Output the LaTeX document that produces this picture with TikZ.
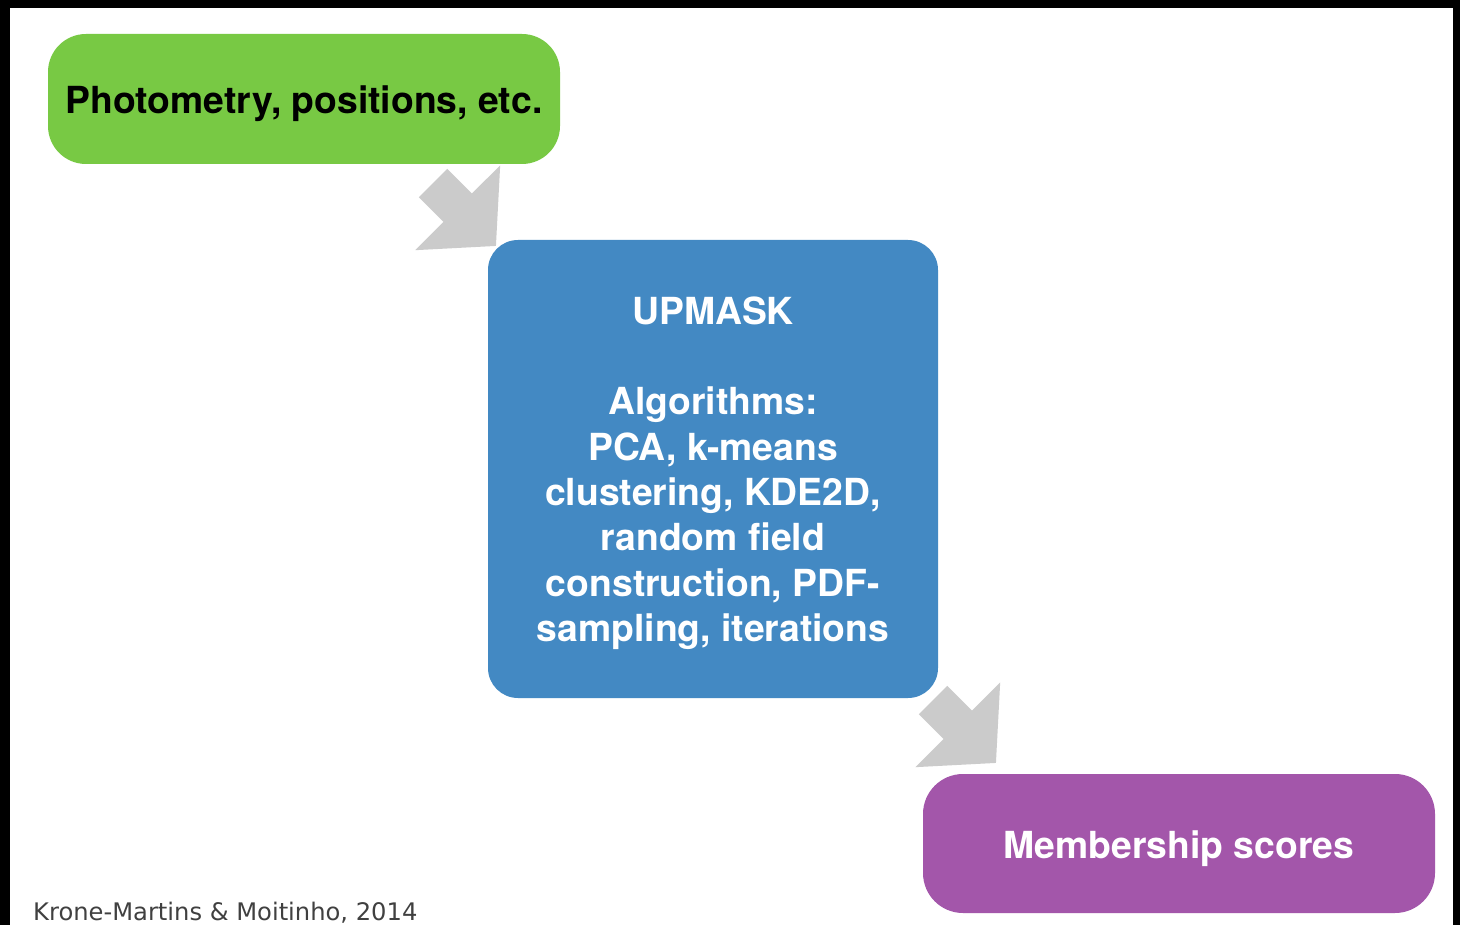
\documentclass[tikz,border=0pt]{standalone}
\usepackage{fontspec}
\setmainfont{TeX Gyre Heros}
\newfontfamily\footfont{DejaVu Sans}
\definecolor{boxgreen}{HTML}{78C944}
\definecolor{boxblue}{HTML}{4389C3}
\definecolor{boxpurple}{HTML}{A356AA}
\definecolor{arrowgray}{HTML}{CBCBCB}
\definecolor{footgray}{HTML}{404040}
\newcommand\blockarr[1]{\fill[arrowgray, shift={(#1)}, rotate=-45]
  (0,-20) -- (35,-20) -- (35,-60) -- (89,0) -- (35,60) -- (35,20) -- (0,20) -- cycle;}
\tikzset{
  box/.style={rectangle, inner sep=0pt},
  boxtext/.style={inner sep=0pt, align=center,
    font=\bfseries\fontsize{37.3}{45.3}\selectfont},
}
\begin{document}
\begin{tikzpicture}[x=1pt,y=-1pt]
\useasboundingbox (0,0) rectangle (1460,925);
\fill[black] (0,0) rectangle (1460,925);
\fill[white] (10,8) rectangle (1453,925);

\node[box, fill=boxgreen, rounded corners=38pt, minimum width=512pt, minimum height=130pt]
  (input) at (304,99) {};
\node[boxtext, text=black] (inputtext) at ([yshift=-4.5pt]input.center) {Photometry, positions, etc.};
\node[box, fill=boxblue, rounded corners=30pt, minimum width=450pt, minimum height=458pt]
  (upmask) at (713,469) {};
\node[boxtext, text=white] (upmasktext) at ([yshift=-4pt]upmask.center)
  {UPMASK\\[45.3pt]Algorithms:\\PCA, k-means\\clustering, KDE2D,\\random field\\construction, PDF-\\sampling, iterations};
\node[box, fill=boxpurple, rounded corners=40pt, minimum width=512pt, minimum height=139pt]
  (output) at (1179,843.5) {};
\node[boxtext, text=white] (outputtext) at ([yshift=-5pt]output.center) {Membership scores};

\coordinate (arrA) at (433,183);
\coordinate (arrB) at (933,700);
\blockarr{arrA}
\blockarr{arrB}

\node[anchor=base west, inner sep=0pt, text=footgray, font=\footfont\fontsize{24.2}{28}\selectfont]
  (credit) at (33,920) {Krone-Martins \& Moitinho, 2014};
\end{tikzpicture}
\end{document}
